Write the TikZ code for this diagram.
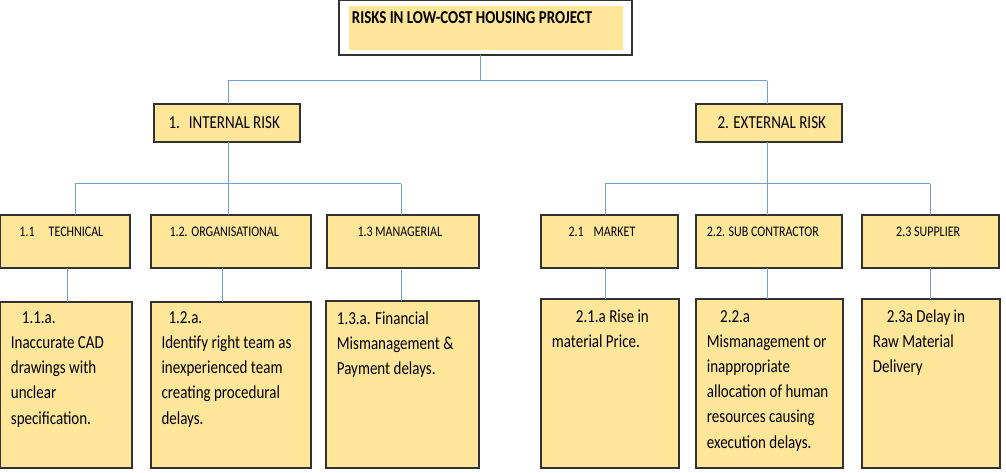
\documentclass[tikz,border=0pt]{standalone}
\usepackage{graphicx}
\usepackage{fontspec}
\setmainfont{Carlito}
\definecolor{boxfill}{RGB}{255,230,153}
\definecolor{boxline}{RGB}{50,50,50}
\definecolor{conn}{RGB}{110,160,215}
\newcommand{\vst}[1]{\scalebox{1}[1.22]{#1}}
\newcommand{\mlines}[1]{\vst{\begin{tabular}[b]{@{}l@{}}#1\end{tabular}}}
\tikzset{
  box/.style={draw=boxline, line width=1.2pt, fill=boxfill, inner sep=0pt, outer sep=0pt, anchor=north west},
  whitebox/.style={draw=boxline, line width=1.2pt, fill=white, inner sep=0pt, outer sep=0pt, anchor=north west},
  innerfill/.style={fill=boxfill, draw=none, inner sep=0pt, outer sep=0pt, anchor=north west},
  link/.style={draw=conn, line width=1pt},
  ttl/.style={anchor=base west, inner sep=0pt, font=\fontsize{14.9}{17}\selectfont\bfseries},
  lone/.style={anchor=base west, inner sep=0pt, font=\fontsize{15}{18}\selectfont},
  ltwo/.style={anchor=base west, inner sep=0pt, font=\fontsize{12}{14}\selectfont},
  det/.style={anchor=base west, inner sep=0pt, font=\fontsize{15}{20.5}\selectfont},
}
\begin{document}
\begin{tikzpicture}[x=1pt,y=-1pt]
\useasboundingbox[fill=white] (0,0) rectangle (1006,473);
% top box
\node[whitebox, minimum width=293pt, minimum height=54.5pt] (top) at (339,0.6) {};
\node[innerfill, minimum width=274pt, minimum height=44pt] (topin) at (349,6) {};
\node[ttl] (toptxt) at (351.7,23.3) {\vst{RISKS IN LOW-COST HOUSING PROJECT}};
% level 1
\node[box, minimum width=146pt, minimum height=38pt] (int) at (154,104) {};
\node[lone] (inttxt) at (168.3,128.3) {\vst{1.\hspace{9pt}INTERNAL RISK}};
\node[box, minimum width=146pt, minimum height=38pt] (ext) at (696,104) {};
\node[lone] (exttxt) at (717.3,128.3) {\vst{2. EXTERNAL RISK}};
% level 2
\node[box, minimum width=129.4pt, minimum height=53pt] (t11) at (0.6,215) {};
\node[box, minimum width=160pt, minimum height=53pt] (t12) at (151,215) {};
\node[box, minimum width=152pt, minimum height=53pt] (t13) at (327,215) {};
\node[box, minimum width=137pt, minimum height=53pt] (t21) at (541,215) {};
\node[box, minimum width=146pt, minimum height=53pt] (t22) at (696,215) {};
\node[box, minimum width=137pt, minimum height=53pt] (t23) at (862,215) {};
\node[ltwo] (t11txt) at (19.3,236.5) {\vst{1.1\hspace{14pt}TECHNICAL}};
\node[ltwo] (t12txt) at (169.3,236.5) {\vst{1.2. ORGANISATIONAL}};
\node[ltwo] (t13txt) at (357.3,236.5) {\vst{1.3 MANAGERIAL}};
\node[ltwo] (t21txt) at (568.3,236.5) {\vst{2.1\hspace{10pt}MARKET}};
\node[ltwo] (t22txt) at (706.7,236.5) {\vst{2.2. SUB CONTRACTOR}};
\node[ltwo] (t23txt) at (896,236.5) {\vst{2.3 SUPPLIER}};
% details (anchor = baseline of the last line)
\node[box, minimum width=131.4pt, minimum height=166pt] (d11) at (0.6,302) {};
\node[box, minimum width=160pt, minimum height=166pt] (d12) at (151,302) {};
\node[box, minimum width=153pt, minimum height=167pt] (d13) at (326,301) {};
\node[box, minimum width=138pt, minimum height=169pt] (d21) at (541,299) {};
\node[box, minimum width=147pt, minimum height=169pt] (d22) at (696,299) {};
\node[box, minimum width=138pt, minimum height=169pt] (d23) at (862,299) {};
\node[det] (d11txt) at (10.7,424) {\mlines{\hspace*{11pt}1.1.a.\\Inaccurate CAD\\drawings with\\unclear\\specification.}};
\node[det] (d12txt) at (161.3,424) {\mlines{\hspace*{7pt}1.2.a.\\Identify right team as\\inexperienced team\\creating procedural\\delays.}};
\node[det] (d13txt) at (336.7,374.5) {\mlines{1.3.a. Financial\\Mismanagement \&\\Payment delays.}};
\node[det] (d21txt) at (551.7,347.5) {\mlines{\hspace*{24pt}2.1.a Rise in\\material Price.}};
\node[det] (d22txt) at (706.7,448) {\mlines{\hspace*{13.3pt}2.2.a\\Mismanagement or\\inappropriate\\allocation of human\\resources causing\\execution delays.}};
\node[det] (d23txt) at (872.7,372.5) {\mlines{\hspace*{14pt}2.3a Delay in\\Raw Material\\Delivery}};
% bus coordinates
\coordinate (b0) at (480,81);
\coordinate (b0l) at (228,81);
\coordinate (b0r) at (767,81);
\coordinate (b1) at (228,184);
\coordinate (b1l) at (75,184);
\coordinate (b1r) at (401,184);
\coordinate (b2) at (767,184);
\coordinate (b2l) at (605,184);
\coordinate (b2r) at (930,184);
% connectors
\draw[link] (top.south -| b0) -- (b0);
\draw[link] (b0l) -- (b0r);
\draw[link] (b0l) -- (b0l |- int.north);
\draw[link] (b0r) -- (b0r |- ext.north);
\draw[link] (b1 |- int.south) -- (b1 |- t12.north);
\draw[link] (b1l) -- (b1r);
\draw[link] (b1l) -- (b1l |- t11.north);
\draw[link] (b1r) -- (b1r |- t13.north);
\draw[link] (b2 |- ext.south) -- (b2 |- t22.north);
\draw[link] (b2l) -- (b2r);
\draw[link] (b2l) -- (b2l |- t21.north);
\draw[link] (b2r) -- (b2r |- t23.north);
% level 2 to details
\coordinate (c11) at (67,0);
\coordinate (c12) at (222,0);
\coordinate (c13) at (401,0);
\coordinate (c21) at (605,0);
\coordinate (c22) at (767,0);
\coordinate (c23) at (930,0);
\draw[link] (c11 |- t11.south) -- (c11 |- d11.north);
\draw[link] (c12 |- t12.south) -- (c12 |- d12.north);
\draw[link] ([yshift=-2pt]c13 |- t13.south) -- (c13 |- d13.north);
\draw[link] (c21 |- t21.south) -- (c21 |- d21.north);
\draw[link] (c22 |- t22.south) -- (c22 |- d22.north);
\draw[link] (c23 |- t23.south) -- (c23 |- d23.north);
\end{tikzpicture}
\end{document}
